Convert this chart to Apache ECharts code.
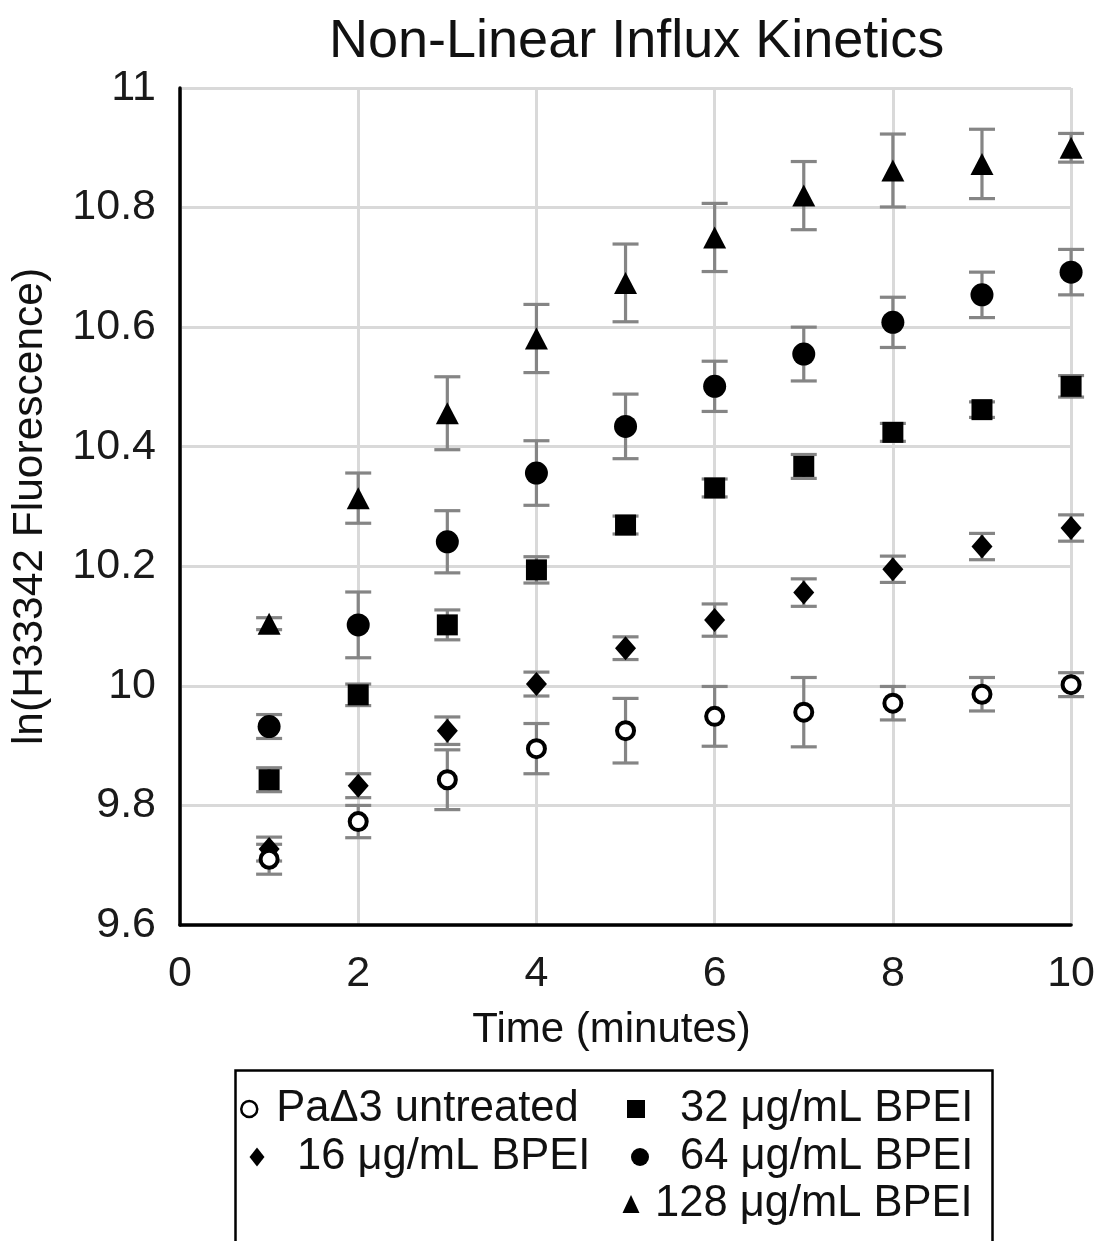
<!DOCTYPE html>
<html>
<head>
<meta charset="utf-8">
<script src="https://cdn.jsdelivr.net/npm/echarts@6/dist/echarts.min.js"></script>
<style>
html,body{margin:0;padding:0;background:#fff;}
#chart{width:1098px;height:1241px;}
</style>
</head>
<body>
<div id="chart"></div>
<script>
// ---- Data ----
var timeMin = [1, 2, 3, 4, 5, 6, 7, 8, 9, 10];
var seriesNames = ['PaΔ3 untreated', '16 μg/mL BPEI', '32 μg/mL BPEI', '64 μg/mL BPEI', '128 μg/mL BPEI'];
var untreated    = [9.710, 9.773, 9.843, 9.895, 9.925, 9.949, 9.956, 9.971, 9.986, 10.002];
var untreatedErr = [0.025, 0.027, 0.050, 0.042, 0.054, 0.050, 0.058, 0.028, 0.028, 0.020];
var bpei16       = [9.727, 9.833, 9.925, 10.003, 10.063, 10.110, 10.156, 10.195, 10.233, 10.264];
var bpei16Err    = [0.020, 0.020, 0.023, 0.020, 0.019, 0.027, 0.023, 0.022, 0.022, 0.022];
var bpei32       = [9.843, 9.985, 10.102, 10.194, 10.269, 10.331, 10.367, 10.424, 10.462, 10.501];
var bpei32Err    = [0.020, 0.018, 0.025, 0.022, 0.015, 0.015, 0.020, 0.015, 0.013, 0.018];
var bpei64       = [9.932, 10.102, 10.241, 10.356, 10.434, 10.501, 10.555, 10.608, 10.654, 10.692];
var bpei64Err    = [0.020, 0.055, 0.052, 0.054, 0.054, 0.042, 0.045, 0.042, 0.038, 0.038];
var bpei128      = [10.104, 10.314, 10.456, 10.581, 10.674, 10.750, 10.820, 10.862, 10.873, 10.900];
var bpei128Err   = [0.010, 0.042, 0.061, 0.057, 0.065, 0.057, 0.057, 0.061, 0.058, 0.024];

var FONT = '"Liberation Sans", Arial, sans-serif';

function pts(vals) {
  return timeMin.map(function (t, i) { return [t, vals[i]]; });
}
function errPts(vals, errs) {
  return timeMin.map(function (t, i) { return [t, vals[i] - errs[i], vals[i] + errs[i]]; });
}
function errorSeries(vals, errs) {
  return {
    type: 'custom',
    z: 1,
    silent: true,
    clip: false,
    encode: { x: 0, y: [1, 2] },
    data: errPts(vals, errs),
    renderItem: function (params, api) {
      var x = api.value(0);
      var lo = api.coord([x, api.value(1)]);
      var hi = api.coord([x, api.value(2)]);
      var hw = 13;
      var st = { stroke: '#858585', lineWidth: 3.2 };
      return {
        type: 'group',
        children: [
          { type: 'line', shape: { x1: lo[0], y1: lo[1], x2: hi[0], y2: hi[1] }, style: st },
          { type: 'line', shape: { x1: lo[0] - hw, y1: lo[1], x2: lo[0] + hw, y2: lo[1] }, style: st },
          { type: 'line', shape: { x1: hi[0] - hw, y1: hi[1], x2: hi[0] + hw, y2: hi[1] }, style: st }
        ]
      };
    }
  };
}

var chart = echarts.init(document.getElementById('chart'));

function legendItem(name, left, top, w, h, spacer, itemStyle) {
  var l = {
    data: [name],
    left: left,
    top: top,
    orient: 'horizontal',
    padding: 0,
    itemWidth: w,
    itemHeight: h,
    selectedMode: false,
    formatter: function (n) { return '{sp|}' + n; },
    textStyle: {
      fontFamily: FONT, fontSize: 43.5, color: '#111', lineHeight: 48,
      rich: { sp: { width: spacer, fontSize: 43.5, lineHeight: 48 } }
    }
  };
  if (itemStyle) l.itemStyle = itemStyle;
  return l;
}

var option = {
  backgroundColor: '#fff',
  animation: false,
  title: {
    text: 'Non-Linear Influx Kinetics',
    left: 324,
    top: 10,
    textStyle: { fontFamily: FONT, fontSize: 54, fontWeight: 'normal', color: '#111' }
  },
  grid: { left: 180, right: 26, top: 88, bottom: 316 },
  xAxis: {
    type: 'value',
    min: 0, max: 10, interval: 2,
    name: 'Time (minutes)',
    nameLocation: 'middle',
    nameGap: 84,
    nameTextStyle: { fontFamily: FONT, fontSize: 42, color: '#111', padding: [0, 28, 0, 0] },
    axisLine: { show: true, onZero: false, lineStyle: { color: '#000', width: 3.5 } },
    axisTick: { show: false },
    axisLabel: { margin: 28, fontFamily: FONT, fontSize: 43, color: '#1a1a1a' },
    splitLine: { show: true, lineStyle: { color: '#d9d9d9', width: 3 } }
  },
  yAxis: {
    type: 'value',
    min: 9.6, max: 11, interval: 0.2,
    name: 'ln(H33342 Fluorescence)',
    nameLocation: 'middle',
    nameGap: 128,
    nameTextStyle: { fontFamily: FONT, fontSize: 42.5, color: '#111' },
    axisLine: { show: true, onZero: false, lineStyle: { color: '#000', width: 3.5 } },
    axisTick: { show: false },
    axisLabel: { margin: 24, fontFamily: FONT, fontSize: 43, color: '#1a1a1a' },
    splitLine: { show: true, lineStyle: { color: '#d9d9d9', width: 3 } }
  },
  legend: [
    legendItem(seriesNames[0], 240, 1085, 16, 16, 14, { color: '#fff', borderColor: '#000', borderWidth: 2.5 }),
    legendItem(seriesNames[1], 249.5, 1133, 15, 19, 27.5),
    legendItem(seriesNames[2], 627, 1085, 18, 18, 30),
    legendItem(seriesNames[3], 631, 1133, 18, 18, 26),
    legendItem(seriesNames[4], 622.5, 1180, 17, 18, 10.5)
  ],
  graphic: [{
    type: 'rect',
    left: 233, top: 1068,
    shape: { width: 757, height: 200 },
    style: { fill: 'none', stroke: '#000', lineWidth: 2.5 },
    silent: true
  }],
  series: [
    errorSeries(untreated, untreatedErr),
    errorSeries(bpei16, bpei16Err),
    errorSeries(bpei32, bpei32Err),
    errorSeries(bpei64, bpei64Err),
    errorSeries(bpei128, bpei128Err),
    {
      name: seriesNames[0], type: 'scatter', z: 5, clip: false,
      symbol: 'circle', symbolSize: 17,
      itemStyle: { color: '#fff', borderColor: '#000', borderWidth: 4, opacity: 1 },
      data: pts(untreated)
    },
    {
      name: seriesNames[1], type: 'scatter', z: 4, clip: false,
      symbol: 'diamond', symbolSize: [21, 24],
      itemStyle: { color: '#000', opacity: 1 },
      data: pts(bpei16)
    },
    {
      name: seriesNames[2], type: 'scatter', z: 5, clip: false,
      symbol: 'rect', symbolSize: 21,
      itemStyle: { color: '#000', opacity: 1 },
      data: pts(bpei32)
    },
    {
      name: seriesNames[3], type: 'scatter', z: 5, clip: false,
      symbol: 'circle', symbolSize: 23,
      itemStyle: { color: '#000', opacity: 1 },
      data: pts(bpei64)
    },
    {
      name: seriesNames[4], type: 'scatter', z: 5, clip: false,
      symbol: 'triangle', symbolSize: [23, 22],
      itemStyle: { color: '#000', opacity: 1 },
      data: pts(bpei128)
    }
  ]
};
chart.setOption(option);
</script>
</body>
</html>
